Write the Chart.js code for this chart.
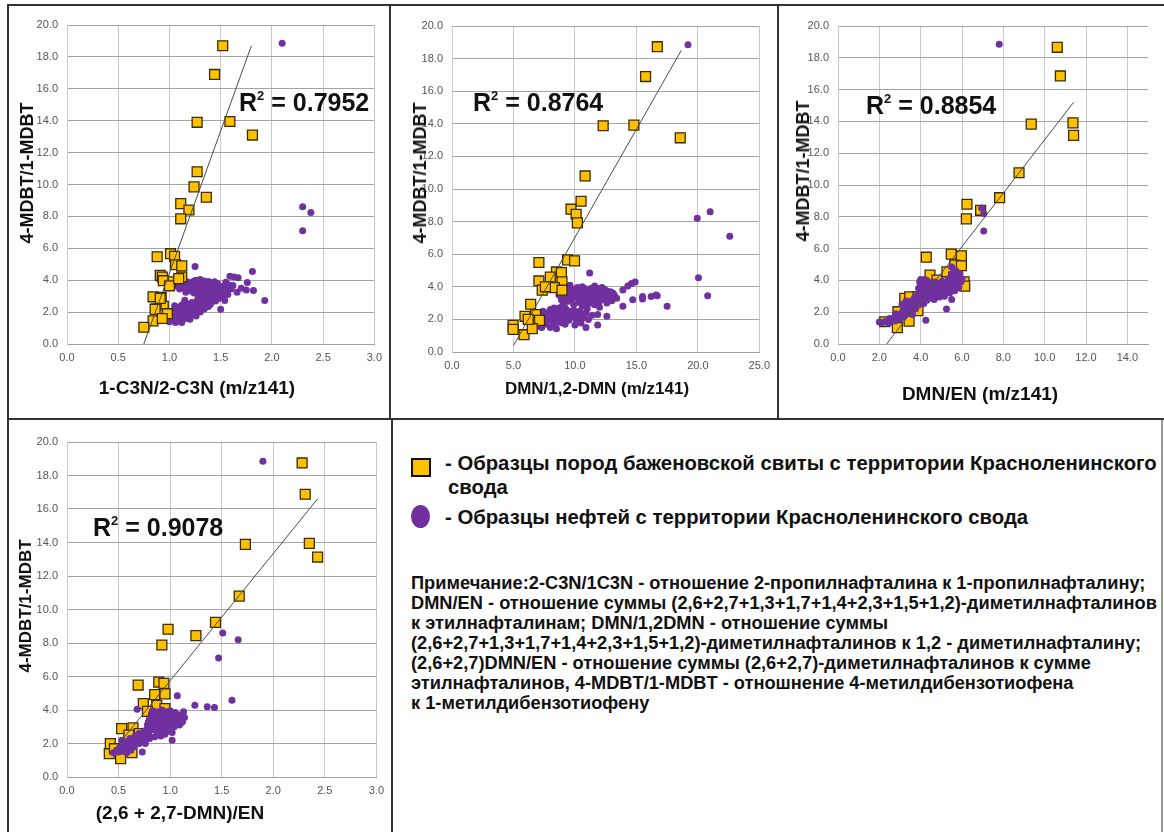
<!DOCTYPE html>
<html><head><meta charset="utf-8">
<script src="https://cdn.jsdelivr.net/npm/chart.js@4.4.1/dist/chart.umd.min.js"></script>
<style>
html,body{margin:0;padding:0;background:#fff;}
body{width:1164px;height:832px;position:relative;overflow:hidden;font-family:'Liberation Sans',Arial,sans-serif;color:#111;}
canvas{position:absolute;}
.ln{position:absolute;background:#333;z-index:5}
.t{position:absolute;white-space:nowrap;font-weight:bold;line-height:1;z-index:6}
.c{transform:translate(-50%,-50%)}
.r{transform:translate(-50%,-50%) rotate(-90deg)}
.r2{font-size:25px;transform:translateY(-50%)}
.r2 sup{font-size:13px;vertical-align:top;position:relative;top:-1px}
.lg{font-size:18px;transform:translateY(-50%)}
.nt{font-size:16px;transform:translateY(-50%)}
</style></head><body>

<canvas id="c1" width="380" height="400" style="left:9px;top:6px"></canvas>
<canvas id="c2" width="386" height="400" style="left:391px;top:6px"></canvas>
<canvas id="c3" width="385" height="400" style="left:779px;top:6px"></canvas>
<canvas id="c4" width="382" height="400" style="left:9px;top:420px"></canvas>

<!-- frames -->
<div class="ln" style="left:7px;top:4px;width:1157px;height:2px"></div>
<div class="ln" style="left:7px;top:4px;width:2px;height:828px"></div>
<div class="ln" style="left:389px;top:4px;width:2px;height:416px"></div>
<div class="ln" style="left:777px;top:4px;width:2px;height:416px"></div>
<div class="ln" style="left:7px;top:418px;width:1157px;height:2px"></div>
<div class="ln" style="left:391px;top:418px;width:2px;height:414px"></div>
<div class="ln" style="left:1161px;top:420px;width:2px;height:412px;background:#9a9a9a"></div>

<!-- axis titles -->
<div class="t c" style="left:197px;top:387px;font-size:19px">1-C3N/2-C3N (m/z141)</div>
<div class="t c" style="left:597px;top:388px;font-size:17px">DMN/1,2-DMN (m/z141)</div>
<div class="t c" style="left:980px;top:393px;font-size:19px">DMN/EN (m/z141)</div>
<div class="t c" style="left:180px;top:812px;font-size:19px">(2,6 + 2,7-DMN)/EN</div>
<div class="t r" style="left:27px;top:173px;font-size:18px">4-MDBT/1-MDBT</div>
<div class="t r" style="left:420px;top:173px;font-size:18px">4-MDBT/1-MDBT</div>
<div class="t r" style="left:803px;top:171px;font-size:18px">4-MDBT/1-MDBT</div>
<div class="t r" style="left:25px;top:606px;font-size:17px">4-MDBT/1-MDBT</div>

<!-- R2 -->
<div class="t r2" style="left:239px;top:102px">R<sup>2</sup> = 0.7952</div>
<div class="t r2" style="left:473px;top:102px">R<sup>2</sup> = 0.8764</div>
<div class="t r2" style="left:866px;top:105px">R<sup>2</sup> = 0.8854</div>
<div class="t r2" style="left:93px;top:527px">R<sup>2</sup> = 0.9078</div>

<!-- legend -->
<div style="position:absolute;left:411px;top:458px;width:16px;height:15px;border:2px solid #111;background:#FFC000"></div>
<div class="t lg" id="lg1" style="left:445px;top:463px">- Образцы пород баженовской свиты с территории Красноленинского</div>
<div class="t lg" style="left:448px;top:487px">свода</div>
<div style="position:absolute;left:411px;top:505px;width:19px;height:23px;border-radius:50%;background:#7030A0"></div>
<div class="t lg" style="left:445px;top:517px">- Образцы нефтей с территории Красноленинского свода</div>

<div class="t nt" style="left:411px;top:583px">Примечание:2-C3N/1C3N - отношение 2-пропилнафталина к 1-пропилнафталину;</div>
<div class="t nt" id="nt2" style="left:411px;top:603px">DMN/EN - отношение суммы (2,6+2,7+1,3+1,7+1,4+2,3+1,5+1,2)-диметилнафталинов</div>
<div class="t nt" style="left:411px;top:623px">к этилнафталинам; DMN/1,2DMN - отношение суммы</div>
<div class="t nt" style="left:411px;top:643px">(2,6+2,7+1,3+1,7+1,4+2,3+1,5+1,2)-диметилнафталинов к 1,2 - диметилнафталину;</div>
<div class="t nt" style="left:411px;top:663px">(2,6+2,7)DMN/EN - отношение суммы (2,6+2,7)-диметилнафталинов к сумме</div>
<div class="t nt" style="left:411px;top:683px">этилнафталинов, 4-MDBT/1-MDBT - отношнение 4-метилдибензотиофена</div>
<div class="t nt" style="left:411px;top:703px">к 1-метилдибензотиофену</div>

<script>
// ---------- data ----------
const rocks1 = [[1.52,18.7],[1.44,16.9],[1.27,13.9],[1.59,13.95],[1.81,13.1],[1.27,10.8],[1.24,9.85],[1.36,9.2],[1.11,8.8],[1.19,8.4],[1.11,7.85],[0.88,5.47],[1.01,5.66],[1.05,5.5],[1.06,4.97],[1.12,4.9],[0.91,4.3],[0.93,4.2],[1.12,4.2],[1.01,3.9],[0.94,3.97],[1.0,3.65],[1.09,4.1],[0.84,2.96],[0.92,2.92],[0.94,2.36],[0.87,2.2],[0.93,1.84],[0.84,1.45],[0.75,1.05],[0.98,1.9],[0.91,2.86],[0.86,2.17],[0.93,1.6]];
const oils1 = [[2.1,18.85],[2.3,8.6],[2.38,8.25],[2.3,7.1],
 [1.25,4.86],[1.81,4.55],[1.59,4.25],[1.63,4.2],[1.67,4.15],[1.55,3.87],[1.76,3.85],[1.62,3.66],[1.75,3.38],[1.82,3.36],[1.66,3.25],[1.93,2.72],[1.54,2.72],[1.5,2.18],[1.48,3.3],[1.7,3.5],[1.6,3.45],[1.44,3.9],[1.38,3.92],
 [1.12,3.55],[1.15,3.7],[1.17,3.9],[1.18,3.4],[1.2,3.6],[1.21,3.85],[1.22,3.3],[1.24,3.95],[1.25,3.5],[1.26,3.75],[1.27,3.15],[1.28,3.6],[1.29,3.9],[1.3,3.35],[1.31,3.05],[1.32,3.7],[1.33,3.5],[1.34,2.9],[1.35,3.8],[1.35,3.25],[1.36,3.55],[1.37,3.1],[1.38,3.65],[1.39,3.35],[1.4,2.95],[1.4,3.85],[1.41,3.5],[1.42,3.2],[1.43,3.7],[1.44,3.0],[1.45,3.4],[1.46,3.6],[1.47,3.15],[1.48,2.85],[1.49,3.5],[1.5,3.3],[1.52,3.6],[1.53,3.2],[1.55,3.45],[1.57,3.1],[1.58,3.7],[1.33,2.75],[1.38,2.6],[1.45,2.7],[1.3,4.05],[1.14,3.9],[1.1,3.45],[1.08,3.6],
 [1.16,3.25],[1.19,3.75],[1.23,3.45],[1.26,3.3],[1.27,3.95],[1.29,3.45],[1.31,3.8],[1.33,3.2],[1.34,3.6],[1.36,3.0],[1.37,3.85],[1.39,3.15],[1.41,3.7],[1.42,2.95],[1.43,3.45],[1.46,3.25],[1.47,3.8],[1.49,3.05],[1.51,3.45],[1.3,2.6],[1.32,2.85],[1.35,2.45],[1.37,2.8],[1.4,2.5],[1.42,2.75],[1.28,2.9],[1.24,3.2],[1.21,3.45],[1.18,3.6],[1.13,3.75],[1.44,3.55],[1.34,3.95],[1.26,4.0],[1.52,3.0],[1.56,3.3],[1.6,3.5],
 [0.97,1.5],[1.0,1.4],[1.02,1.65],[1.03,1.9],[1.05,1.55],[1.06,2.1],[1.07,1.8],[1.08,2.3],[1.09,1.45],[1.1,2.0],[1.11,1.7],[1.12,2.45],[1.13,2.15],[1.14,1.9],[1.15,2.6],[1.16,2.3],[1.17,1.6],[1.18,2.05],[1.19,2.5],[1.2,1.8],[1.21,2.25],[1.22,2.6],[1.23,1.95],[1.24,2.4],[1.25,2.1],[1.26,1.75],[1.28,2.3],[1.3,2.0],[1.32,2.45],[1.34,2.2],[1.36,2.6],[1.38,2.35],[1.27,2.7],[1.15,2.75],[1.05,2.4],[1.0,2.0],[0.98,1.75],[1.2,1.55],[1.12,1.35],
 [1.04,1.75],[1.08,2.0],[1.1,1.55],[1.13,1.85],[1.16,2.1],[1.18,1.75],[1.2,2.35],[1.22,2.0],[1.24,2.25],[1.14,2.35],[1.09,2.15],[1.01,1.55],[1.06,1.35],[1.17,2.45]];
const trend1 = [[0.75,0.0],[1.8,18.7]];

const rocks2 = [[16.7,18.73],[15.75,16.9],[12.3,13.88],[14.8,13.92],[18.57,13.14],[10.83,10.8],[10.5,9.25],[9.68,8.76],[10.1,8.45],[10.2,7.92],[7.07,5.49],[9.4,5.65],[9.97,5.59],[8.5,4.91],[8.9,4.87],[7.07,4.36],[8.2,4.3],[8.95,4.3],[7.34,3.79],[8.33,3.95],[8.95,3.79],[6.4,2.93],[6.8,2.29],[5.94,2.19],[7.12,1.94],[4.97,1.64],[4.97,1.39],[5.86,1.06],[6.53,1.43],[8.0,4.6],[7.6,4.0],[6.2,2.0]];
const oils2 = [[19.2,18.85],[21.0,8.6],[19.95,8.2],[22.6,7.1],[20.05,4.55],[20.8,3.45],[17.5,2.8],[16.6,3.5],[16.2,3.4],[15.5,3.25],[15.5,3.4],[14.7,3.2],[13.9,2.8],[14.9,4.3],[14.6,4.2],[14.3,4.05],[13.9,3.8],[11.2,4.85],[12.6,2.2],[11.85,2.3],[11.85,1.65],[10.9,1.5],[16.7,3.45],
 [8.6,3.9],[8.8,3.6],[9.0,4.0],[9.1,3.4],[9.3,3.75],[9.4,3.1],[9.5,3.9],[9.6,3.5],[9.7,3.25],[9.8,3.8],[9.9,2.9],[10.0,3.6],[10.1,3.35],[10.2,3.95],[10.3,3.05],[10.4,3.7],[10.5,3.45],[10.6,2.8],[10.7,3.85],[10.8,3.2],[10.9,3.6],[11.0,3.0],[11.1,3.75],[11.2,3.4],[11.3,3.9],[11.4,3.15],[11.5,3.55],[11.6,2.9],[11.7,3.7],[11.8,3.3],[11.9,3.85],[12.0,3.1],[12.1,3.5],[12.2,3.95],[12.3,3.25],[12.5,3.6],[12.6,3.0],[12.7,3.4],[12.9,3.7],[13.0,3.15],[13.2,3.5],[13.4,3.3],[9.2,2.7],[10.0,2.5],[11.0,2.65],[12.0,2.75],[8.9,3.2],[9.6,4.1],[10.6,4.0],[11.6,4.05],[12.4,3.85],
 [9.2,3.55],[9.4,3.85],[9.8,3.4],[10.2,3.6],[10.4,3.2],[10.6,3.55],[10.8,3.9],[11.0,3.35],[11.2,3.7],[11.4,3.55],[11.6,3.25],[11.8,3.6],[12.0,3.9],[12.2,3.35],[12.4,3.6],[12.8,3.3],[9.5,3.3],[10.0,3.85],[10.9,3.1],[11.5,3.85],[9.0,3.7],[8.7,3.5],[12.6,3.75],[13.1,3.6],[10.3,3.5],[11.3,3.0],
 [6.6,1.45],[6.9,1.6],[7.1,1.9],[7.3,1.5],[7.5,2.2],[7.6,1.7],[7.8,2.4],[7.9,1.95],[8.0,2.6],[8.1,1.55],[8.2,2.25],[8.3,1.85],[8.4,2.5],[8.5,1.43],[8.6,2.05],[8.7,2.7],[8.8,2.3],[8.9,1.8],[9.0,2.5],[9.1,2.05],[9.3,2.35],[9.5,1.95],[9.7,2.4],[9.9,2.2],[10.1,2.0],[10.3,2.3],[10.5,1.78],[10.7,2.1],[10.9,2.4],[11.1,2.0],[11.4,2.25],[8.0,1.5],[7.2,1.55],[9.2,1.7],[10.0,1.65],
 [7.4,1.8],[7.7,2.0],[8.1,2.1],[8.4,1.7],[8.6,2.35],[8.9,2.1],[9.2,2.2],[9.4,2.55],[9.6,2.1],[9.8,2.5],[10.2,2.15],[10.4,2.5],[10.6,2.3],[8.3,2.7],[7.0,1.75],[6.8,2.1],[7.4,2.5],[9.0,2.85]];
const trend2 = [[5.0,0.4],[18.65,18.5]];

const rocks3 = [[10.61,18.66],[10.76,16.86],[9.35,13.83],[11.37,13.91],[11.4,13.12],[8.76,10.77],[7.82,9.2],[6.24,8.79],[6.9,8.41],[6.21,7.87],[4.27,5.46],[5.48,5.65],[5.97,5.54],[5.65,4.96],[5.97,4.92],[4.45,4.33],[4.79,4.02],[5.27,4.54],[6.1,3.91],[6.13,3.64],[3.23,2.87],[3.47,2.97],[3.87,2.97],[3.87,2.09],[2.9,2.03],[2.26,1.4],[3.44,1.44],[2.87,1.03],[5.6,4.2]];
const oils3 = [[7.8,18.85],[6.95,8.55],[7.05,8.2],[7.05,7.1],
 [2.0,1.38],[2.15,1.35],[2.3,1.42],[2.45,1.3],[2.6,1.5],[2.75,1.45],[2.5,1.6],[2.9,1.7],[3.0,1.55],[3.05,1.9],[3.15,2.1],[3.2,1.75],[3.3,2.3],[3.35,1.95],[3.4,2.5],[3.5,2.15],[3.55,2.7],[3.6,1.85],[3.65,2.4],[3.7,2.9],[3.75,2.2],[3.8,2.6],[3.85,3.1],[3.9,2.45],[3.95,3.9],[4.0,4.05],[4.05,2.8],[4.1,3.3],[4.1,3.75],[4.15,2.55],[4.2,3.0],[4.2,3.55],[4.25,1.5],[4.3,2.75],[4.35,3.25],[4.4,3.7],[4.45,2.9],[4.5,3.4],[4.55,3.05],[4.6,3.6],[4.65,2.8],[4.7,3.3],[4.75,3.85],[4.8,3.1],[4.85,3.5],[4.9,2.95],[4.95,3.7],[5.0,3.25],[5.05,3.95],[5.1,3.45],[5.15,3.0],[5.2,3.75],[5.25,2.2],[5.3,3.5],[5.35,4.1],[5.4,3.2],[5.45,3.8],[5.5,2.8],[5.5,4.4],[5.55,3.6],[5.6,4.0],[5.65,3.35],[5.7,4.6],[5.75,3.8],[5.8,4.2],[5.85,3.55],[5.9,4.45],[5.95,3.9],[6.0,4.1],[5.5,4.85],[3.1,2.5],[2.8,1.9],[3.3,2.7],[4.0,3.6],[4.3,4.0],[3.9,3.5],
 [3.2,2.05],[3.4,2.2],[3.6,2.55],[3.8,2.85],[4.0,3.1],[4.2,3.3],[4.4,3.45],[4.6,3.3],[4.8,3.55],[5.0,3.5],[5.2,3.6],[5.4,3.6],[5.6,3.8],[4.3,3.5],[4.5,3.75],[4.7,3.9],[4.9,3.3],[5.1,3.8],[5.3,3.85],[3.5,2.45],[3.7,2.65],[3.9,2.95],[4.1,2.9],[4.4,3.1],[4.6,3.5],[4.0,3.9],[4.2,4.05],[2.7,1.65],[2.4,1.45],[5.8,3.9],[5.6,4.4],[5.2,3.3]];
const trend3 = [[2.35,0.0],[11.4,15.2]];

const rocks4 = [[2.28,18.75],[2.31,16.88],[1.73,13.89],[2.35,13.95],[2.43,13.13],[1.67,10.8],[1.44,9.23],[0.98,8.82],[1.25,8.44],[0.92,7.88],[0.69,5.49],[0.89,5.67],[0.94,5.59],[0.85,4.92],[0.95,4.96],[0.74,4.38],[0.87,4.28],[0.78,3.92],[0.95,4.08],[0.53,2.89],[0.64,2.93],[0.42,1.99],[0.41,1.39],[0.52,1.09],[0.63,1.45],[0.46,1.69],[0.7,2.59],[0.6,2.5]];
const oils4 = [[1.9,18.85],[1.51,8.6],[1.66,8.2],[1.47,7.1],[1.6,4.58],[1.43,4.15],[1.36,4.2],[1.24,4.28],[1.07,4.85],[0.68,4.05],[1.02,2.2],[0.91,2.45],[0.73,1.5],
 [0.78,3.1],[0.8,3.5],[0.81,2.8],[0.82,3.8],[0.84,3.3],[0.85,2.95],[0.86,3.65],[0.87,3.9],[0.88,3.15],[0.89,3.5],[0.9,2.75],[0.91,3.3],[0.92,3.75],[0.93,3.0],[0.94,3.55],[0.95,3.2],[0.96,3.9],[0.97,2.85],[0.98,3.45],[0.99,3.7],[1.0,3.1],[1.01,3.35],[1.02,2.65],[1.03,3.6],[1.04,3.0],[1.05,3.85],[1.06,3.25],[1.07,3.5],[1.08,3.7],[1.09,3.1],[1.1,3.4],[1.11,3.6],[1.12,3.3],[1.13,3.9],[1.14,3.55],[0.83,3.95],[0.88,2.6],[0.95,2.55],[1.0,3.95],[0.92,4.0],[0.97,3.3],
 [0.79,3.3],[0.81,3.6],[0.83,3.05],[0.84,3.7],[0.86,3.35],[0.87,3.05],[0.88,3.8],[0.9,3.45],[0.9,3.15],[0.92,3.55],[0.93,3.3],[0.94,3.85],[0.95,2.95],[0.96,3.5],[0.97,3.7],[0.98,3.15],[0.99,3.35],[1.0,3.55],[1.01,3.8],[1.02,3.2],[1.03,3.4],[1.04,3.7],[1.05,3.1],[1.06,3.55],[1.07,3.3],[1.08,3.45],[1.09,3.6],[1.1,3.2],[1.12,3.5],[0.91,2.9],[0.98,2.75],[0.86,2.8],[0.76,2.7],
 [0.45,1.45],[0.48,1.6],[0.5,1.5],[0.52,1.75],[0.54,1.6],[0.55,1.95],[0.57,1.7],[0.58,2.1],[0.6,1.85],[0.61,2.3],[0.63,1.95],[0.64,2.2],[0.66,2.45],[0.67,2.05],[0.69,2.3],[0.7,2.6],[0.72,2.15],[0.74,2.45],[0.75,2.75],[0.77,2.4],[0.79,2.55],[0.8,2.3],[0.62,1.6],[0.58,1.45],[0.53,2.2],[0.85,2.4],[0.76,2.0],
 [0.73,2.3],[0.7,2.0],[0.65,1.8],[0.6,1.65],[0.56,1.85],[0.5,1.65],[0.68,2.5],[0.78,2.85]];
const trend4 = [[0.44,1.5],[2.43,16.6]];

const xTicks1 = {min:0, max:3, step:0.5};
const xTicks2 = {min:0, max:25, step:5};
const xTicks3 = {min:0, max:15, step:2};
const xTicks4 = {min:0, max:3, step:0.5};
const yTicks = {min:0, max:20, step:2};

// ---------- charts ----------
const FONT = "'Liberation Sans', Arial, sans-serif";
const pts = a => a.map(p => ({x:p[0], y:p[1]}));

function makeChart(id, rocks, oils, trend, xt, lay, rocksOnTop) {
  new Chart(document.getElementById(id), {
    type: 'scatter',
    data: { datasets: [
      { type:'line', data: pts(trend), borderColor:'#4a4a4a', borderWidth:1, pointRadius:0, fill:false, order:0 },
      { label:'rocks', data: pts(rocks), pointStyle:'rect', pointRadius:7, backgroundColor:'#FFC000', borderColor:'#3a2c05', borderWidth:1.3, order: rocksOnTop ? 1 : 2 },
      { label:'oils', data: pts(oils), pointStyle:'circle', pointRadius:3.5, backgroundColor:'#7030A0', borderWidth:0, order: rocksOnTop ? 2 : 1 }
    ]},
    options: {
      responsive:false, devicePixelRatio:1, animation:false, events:[],
      layout:{ padding:{ left:0, top:lay.top, right:lay.right, bottom:0 } },
      plugins:{ legend:{display:false}, tooltip:{enabled:false} },
      scales:{
        x:{ type:'linear', min:xt.min, max:xt.max,
            ticks:{ stepSize:xt.step, includeBounds:false, autoSkip:false, maxRotation:0, padding:7, color:'#555555', font:{family:FONT, size:11}, callback:v=>Number(v).toFixed(1) },
            grid:{ color:'#c8c8c8', drawTicks:false }, border:{ color:'#a0a0a0' },
            afterFit: s => { s.height = lay.xh; } },
        y:{ type:'linear', min:yTicks.min, max:yTicks.max,
            ticks:{ stepSize:yTicks.step, includeBounds:false, autoSkip:false, padding:9, color:'#555555', font:{family:FONT, size:11}, callback:v=>Number(v).toFixed(1) },
            grid:{ color:'#a4a4a4', drawTicks:false }, border:{ color:'#c8c8c8' },
            afterFit: s => { s.width = lay.yw; } }
      }
    }
  });
}

makeChart('c1', rocks1, oils1, trend1, xTicks1, {top:19, right:11, xh:62, yw:58}, true);
makeChart('c2', rocks2, oils2, trend2, xTicks2, {top:20, right:15, xh:54, yw:61}, true);
makeChart('c3', rocks3, oils3, trend3, xTicks3, {top:20, right:16, xh:62, yw:59}, false);
makeChart('c4', rocks4, oils4, trend4, xTicks4, {top:22, right:13, xh:43, yw:58}, false);

// fit legend / note text widths to the reference line widths
function fitGroup(cls, refEl, target) {
  const w = refEl.getBoundingClientRect().width;
  const fs = parseFloat(getComputedStyle(refEl).fontSize);
  const nfs = fs * target / w;
  document.querySelectorAll(cls).forEach(e => e.style.fontSize = nfs.toFixed(2) + 'px');
}
fitGroup('.lg', document.getElementById('lg1'), 712);
fitGroup('.nt', document.getElementById('nt2'), 746);
</script>
</body></html>
